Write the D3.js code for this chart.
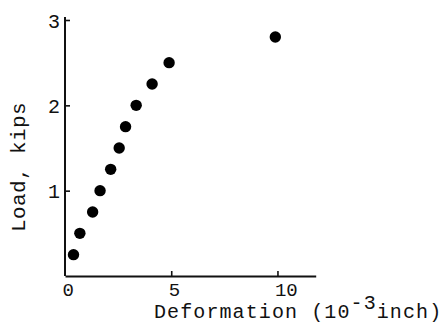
<!DOCTYPE html>
<html>
<head>
<meta charset="utf-8">
<script src="https://cdn.jsdelivr.net/npm/d3@7"></script>
<style>
  html, body { margin: 0; padding: 0; background: #fff; }
  svg { display: block; }
  text { font-family: "Liberation Mono", "DejaVu Sans Mono", monospace; fill: #111; }
</style>
</head>
<body>
<script>
// Data
const deformation = [0.4, 0.7, 1.3, 1.65, 2.15, 2.55, 2.85, 3.35, 4.1, 4.9, 9.9]; // 10^-3 inch
const load        = [0.25, 0.5, 0.75, 1.0, 1.25, 1.5, 1.75, 2.0, 2.25, 2.5, 2.8]; // kips
const xTicks = [0, 5, 10];
const yTicks = [1, 2, 3];
const xTitleMain = "Deformation (10";
const xTitleSup = "-3";
const xTitleEnd = "inch)";
const yTitle = "Load, kips";

const W = 444, H = 324;
const svg = d3.select("body").append("svg").attr("width", W).attr("height", H);

const x = d3.scaleLinear().domain([0, 11.8]).range([65, 315.7]);
const y = d3.scaleLinear().domain([0, 3]).range([276, 20]);

// X axis
const xAxis = d3.axisBottom(x).tickValues(xTicks).tickSizeInner(-5).tickSizeOuter(0).tickPadding(0)
  .tickFormat(d3.format("d"));
const gx = svg.append("g").attr("transform", `translate(0,${y(0)})`).call(xAxis);
gx.select(".domain").attr("stroke", "#111").attr("stroke-width", 2);
gx.selectAll(".tick line").attr("stroke", "#111").attr("stroke-width", 1.6)
  .attr("opacity", d => d === 0 ? 0 : 1);
gx.selectAll(".tick text")
  .attr("font-size", 19).attr("text-anchor", "start").attr("dx", -3)
  .attr("y", 20).attr("dy", 0)
  .style("font-family", "Liberation Mono, monospace").attr("fill", "#111");

// Y axis
const yAxis = d3.axisLeft(y).tickValues(yTicks).tickSizeInner(-5).tickSizeOuter(0).tickPadding(0)
  .tickFormat(d3.format("d"));
const gy = svg.append("g").attr("transform", `translate(${x(0)},0)`).call(yAxis);
gy.select(".domain").attr("stroke", "#111").attr("stroke-width", 2)
  .attr("d", `M0,${y(0)}V${y(3) - 3}`);
gy.selectAll(".tick line").attr("stroke", "#111").attr("stroke-width", 1.6);
gy.selectAll(".tick text")
  .attr("font-size", 20).attr("text-anchor", "end").attr("x", -5).attr("dy", "0.35em")
  .style("font-family", "Liberation Mono, monospace").attr("fill", "#111");

// Points
svg.append("g").selectAll("circle")
  .data(deformation.map((d, i) => [d, load[i]]))
  .join("circle")
  .attr("cx", d => x(d[0]))
  .attr("cy", d => y(d[1]))
  .attr("r", 5.7)
  .attr("fill", "#000");

// X title
const xt = svg.append("text")
  .attr("x", 154).attr("y", 318)
  .attr("font-size", 20).attr("letter-spacing", 1.1);
xt.append("tspan").text(xTitleMain);
xt.append("tspan").attr("dy", -9).text(xTitleSup);
xt.append("tspan").attr("dy", 9).text(xTitleEnd);

// Y title
svg.append("text")
  .attr("transform", "translate(25,232) rotate(-90)")
  .attr("font-size", 21).attr("letter-spacing", 0.4)
  .text(yTitle);
</script>
</body>
</html>
